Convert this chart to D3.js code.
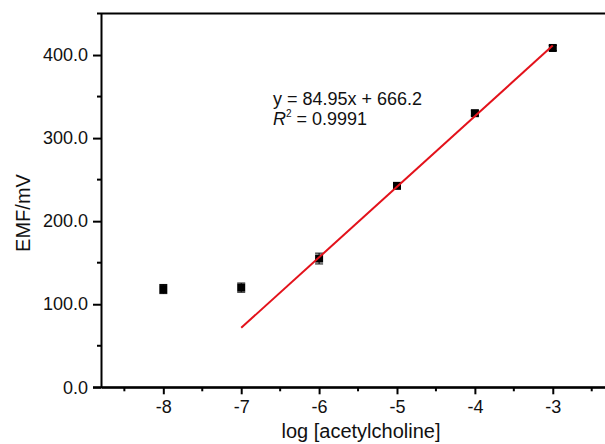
<!DOCTYPE html>
<html><head><meta charset="utf-8">
<script src="https://cdn.jsdelivr.net/npm/d3@7"></script>
<style>body{margin:0;background:#fff;} svg{display:block;font-family:"Liberation Sans",Arial,sans-serif;}</style>
</head><body>
<script>
const logConc = [-8, -7, -6, -5, -4, -3];
const emf = [118.3, 120.0, 155.0, 242.5, 330.0, 408.5];
const emfErr = [5.5, 5.5, 6.5, 3, 3, 3];
const fitX = [-7, -3];
const fitSlope = 84.95, fitIntercept = 666.2;
const xTicks = [-8, -7, -6, -5, -4, -3];
const xMinor = [-8.5, -7.5, -6.5, -5.5, -4.5, -3.5, -2.5];
const yTicks = [0, 100, 200, 300, 400];
const yMinor = [50, 150, 250, 350];

const W = 605, H = 444;
const svg = d3.select("body").append("svg").attr("width", W).attr("height", H);
const x = d3.scaleLinear().domain([-8.8, -2.3]).range([101, 607.3]);
const y = d3.scaleLinear().domain([0, 450]).range([387.3, 13.5]);

// frame top line
svg.append("line").attr("x1", 97).attr("x2", W).attr("y1", y(450)).attr("y2", y(450))
  .attr("stroke", "#000").attr("stroke-width", 2);

// y axis
const yAxis = svg.append("g").attr("transform", "translate(101,0)")
  .call(d3.axisLeft(y).tickValues(yTicks).tickFormat(d3.format(".1f")).tickSize(8).tickSizeOuter(0).tickPadding(5));
yAxis.append("g").selectAll("line").data(yMinor).join("line")
  .attr("x1", -4).attr("x2", 0).attr("y1", d => y(d)).attr("y2", d => y(d)).attr("stroke", "#000").attr("stroke-width", 2);

// x axis
const xAxis = svg.append("g").attr("transform", "translate(0,387.3)")
  .call(d3.axisBottom(x).tickValues(xTicks).tickFormat(d => String(d)).tickSize(7).tickSizeOuter(0).tickPadding(6));
xAxis.append("g").selectAll("line").data(xMinor).join("line")
  .attr("x1", d => x(d)).attr("x2", d => x(d)).attr("y1", 0).attr("y2", 4).attr("stroke", "#000").attr("stroke-width", 2);

[yAxis, xAxis].forEach(g => {
  g.select(".domain").attr("stroke-width", 2);
  g.selectAll(".tick line").attr("stroke-width", 2);
  g.selectAll("text").attr("font-size", 18).attr("fill", "#111").attr("font-family", "Liberation Sans, Arial, sans-serif");
});
svg.append("line").attr("x1", 93).attr("x2", W).attr("y1", 387.3).attr("y2", 387.3).attr("stroke", "#000").attr("stroke-width", 2);

// axis titles
svg.append("text").attr("transform", "translate(30,213) rotate(-90)").attr("text-anchor", "middle")
  .attr("font-size", 20).attr("fill", "#111").text("EMF/mV");
svg.append("text").attr("x", 361).attr("y", 438).attr("text-anchor", "middle")
  .attr("font-size", 20).attr("fill", "#111").text("log [acetylcholine]");

// error bars
const eb = svg.append("g");
logConc.forEach((d, i) => {
  const cx = x(d), t = y(emf[i] + emfErr[i]), b = y(emf[i] - emfErr[i]);
  eb.append("line").attr("x1", cx).attr("x2", cx).attr("y1", t).attr("y2", b).attr("stroke", "#000").attr("stroke-width", 1);
  [t, b].forEach(v => eb.append("line").attr("x1", cx - 4).attr("x2", cx + 4).attr("y1", v).attr("y2", v).attr("stroke", "#000").attr("stroke-width", 1));
});

// points
svg.append("g").selectAll("rect").data(logConc).join("rect")
  .attr("x", d => x(d) - 4).attr("y", (d, i) => y(emf[i]) - 4).attr("width", 8).attr("height", 8).attr("fill", "#000");

// fit line
svg.append("line").attr("x1", x(fitX[0])).attr("y1", y(fitSlope * fitX[0] + fitIntercept))
  .attr("x2", x(fitX[1])).attr("y2", y(fitSlope * fitX[1] + fitIntercept))
  .attr("stroke", "#e3121b").attr("stroke-width", 2);

// equation
svg.append("text").attr("x", 273).attr("y", 105).attr("font-size", 18).attr("fill", "#111").text("y = 84.95x + 666.2");
const r2 = svg.append("text").attr("x", 273).attr("y", 125).attr("font-size", 18).attr("fill", "#111");
r2.append("tspan").attr("font-style", "italic").text("R");
r2.append("tspan").attr("font-size", 10).attr("dy", -8).text("2");
r2.append("tspan").attr("dy", 8).text(" = 0.9991");
</script>
</body></html>
